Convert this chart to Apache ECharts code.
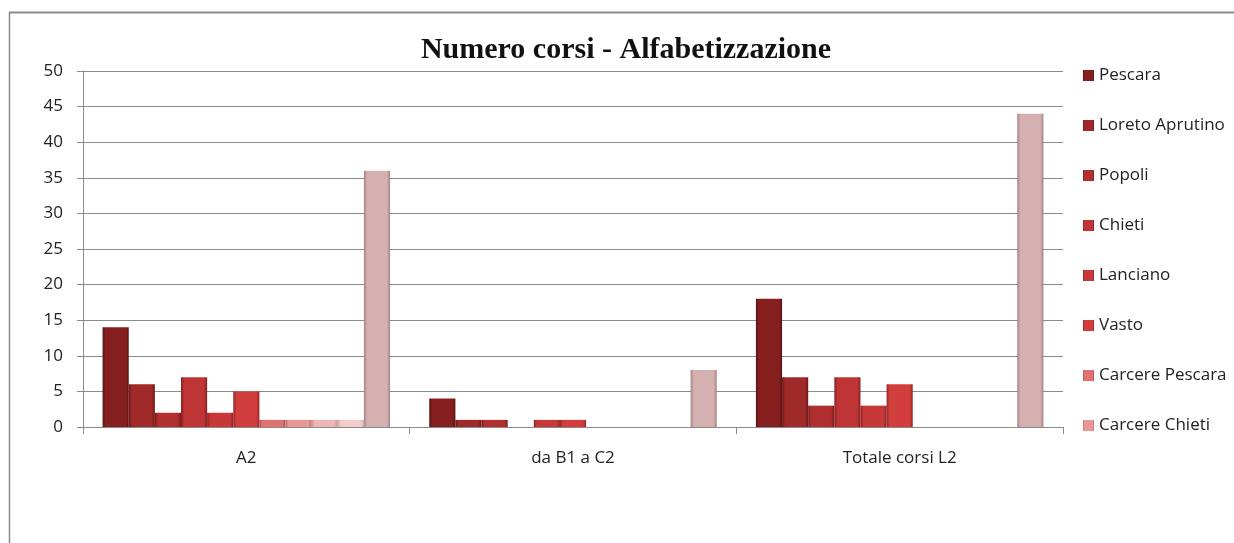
<!DOCTYPE html>
<html>
<head>
<meta charset="utf-8">
<script src="https://cdn.jsdelivr.net/npm/echarts@6/dist/echarts.min.js"></script>
<style>
    html, body { margin: 0; padding: 0; background: #fff; }
    #main { width: 1234px; height: 543px; }
</style>
</head>
<body>
<div id="main"></div>
<script>
// categorie
let categories = ['A2', 'da B1 a C2', 'Totale corsi L2']
let yTicks = [0, 5, 10, 15, 20, 25, 30, 35, 40, 45, 50]

// valori per sede
let pescara = [14, 4, 18]
let loretoAprutino = [6, 1, 7]
let popoli = [2, 1, 3]
let chieti = [7, 0, 7]
let lanciano = [2, 1, 3]
let vasto = [5, 1, 6]
let carcerePescara = [1, 0, 0]
let carcereChieti = [1, 0, 0]
let carcereLanciano = [1, 0, 0]
let carcereVasto = [1, 0, 0]
let totale = [36, 8, 44]

let seriesNames = ['Pescara', 'Loreto Aprutino', 'Popoli', 'Chieti', 'Lanciano', 'Vasto',
    'Carcere Pescara', 'Carcere Chieti', 'Carcere Lanciano', 'Carcere Vasto', 'Totale']
let seriesValues = [pescara, loretoAprutino, popoli, chieti, lanciano, vasto,
    carcerePescara, carcereChieti, carcereLanciano, carcereVasto, totale]
// nella legenda originale si vedono solo le prime 8 voci
let legendNames = seriesNames.slice(0, 8)

let colors = ['#862020', '#a02a29', '#b02f2f', '#bf3434', '#c73838', '#d23d3d',
    '#e07272', '#e89696', '#efb4b4', '#f3cdcd', '#d4b0b0']
let edges = ['#5a1212', '#6c1818', '#7a1c1c', '#862020', '#8c2222', '#942626',
    '#b05050', '#bf7070', '#c99090', '#d2a8a8', '#a58282']

function bevel(i) {
    return new echarts.graphic.LinearGradient(0, 0, 1, 0, [
        { offset: 0, color: edges[i] },
        { offset: 0.12, color: colors[i] },
        { offset: 0.88, color: colors[i] },
        { offset: 1, color: edges[i] }
    ])
}

let series = []
for (let i = 0; i < seriesNames.length; i++) {
    series.push({
        name: seriesNames[i],
        type: 'bar',
        data: seriesValues[i],
        barGap: '0%',
        barCategoryGap: '12%',
        itemStyle: { color: bevel(i), borderWidth: 0 },
        emphasis: { disabled: true }
    })
}

let chart = echarts.init(document.getElementById('main'))
chart.setOption({
    animation: false,
    color: colors,
    title: {
        text: 'Numero corsi - Alfabetizzazione',
        left: 621,
        top: 30,
        textAlign: 'center',
        textStyle: { fontFamily: 'Liberation Serif', fontWeight: 'bold', fontSize: 30, color: '#111' }
    },
    legend: {
        data: legendNames,
        orient: 'vertical',
        left: 1078,
        top: 60,
        itemGap: 29,
        itemWidth: 11,
        itemHeight: 11,
        icon: 'rect',
        textStyle: { fontFamily: 'Open Sans', fontSize: 17, color: '#222', lineHeight: 21 }
    },
    grid: { left: 83, right: 171, top: 71, bottom: 116 },
    xAxis: {
        type: 'category',
        data: categories,
        axisLine: { lineStyle: { color: '#8a8a8a', width: 1 } },
        axisTick: { show: true, length: 7, lineStyle: { color: '#8a8a8a' } },
        axisLabel: { margin: 23, fontFamily: 'Open Sans', fontSize: 17, color: '#222' }
    },
    yAxis: {
        type: 'value',
        min: yTicks[0],
        max: yTicks[yTicks.length - 1],
        interval: 5,
        axisLine: { show: true, lineStyle: { color: '#8a8a8a' } },
        axisTick: { show: true, length: 6, lineStyle: { color: '#8a8a8a' } },
        splitLine: { lineStyle: { color: '#8a8a8a', width: 1 } },
        axisLabel: { margin: 20, fontFamily: 'Open Sans', fontSize: 17, color: '#222' }
    },
    // cornice del grafico
    graphic: [
        { type: 'line', shape: { x1: 9, y1: 12.5, x2: 1234, y2: 12.5 }, style: { stroke: '#8a8a8a', lineWidth: 2 } },
        { type: 'line', shape: { x1: 9.5, y1: 12, x2: 9.5, y2: 543 }, style: { stroke: '#8a8a8a', lineWidth: 1.5 } }
    ],
    series: series
})
</script>
</body>
</html>
